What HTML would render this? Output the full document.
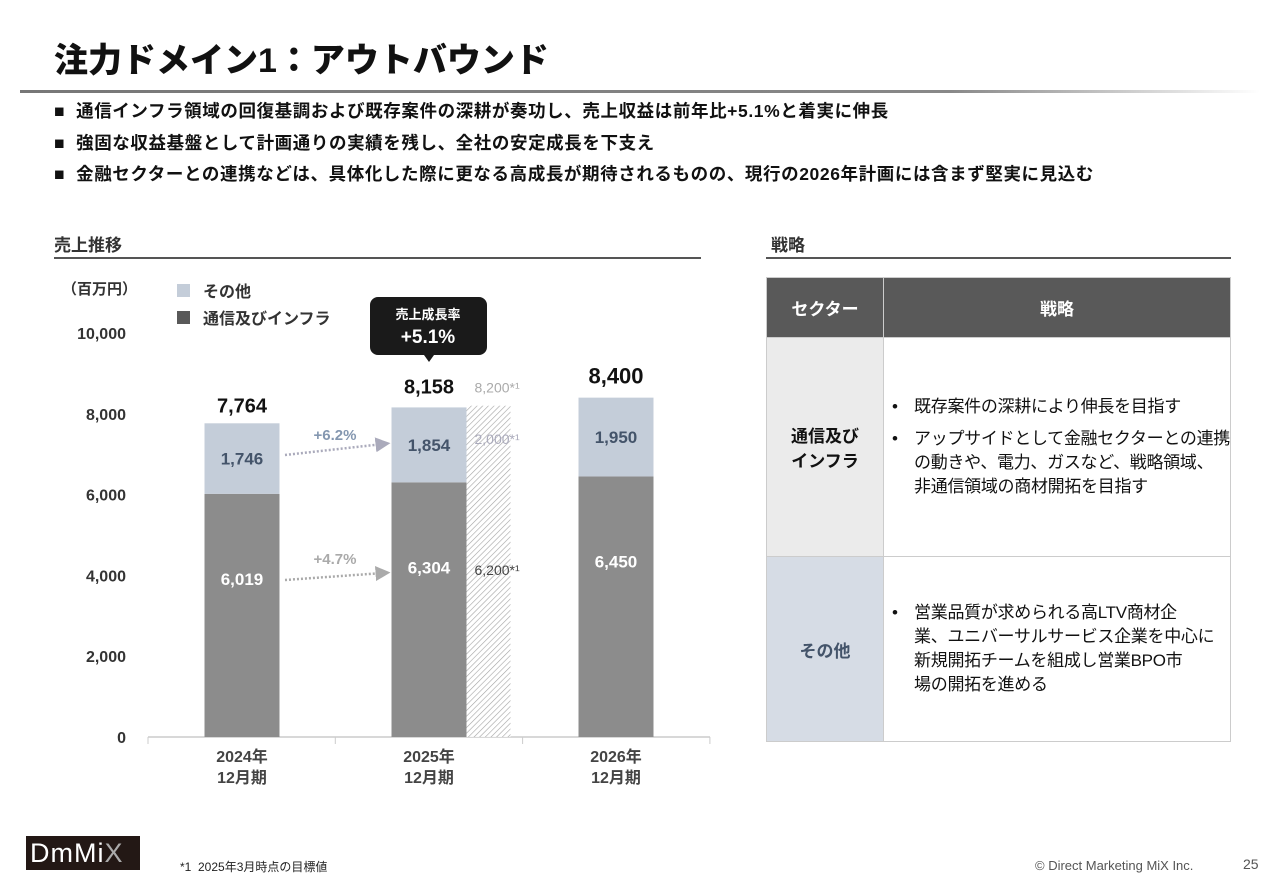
<!DOCTYPE html>
<html><head><meta charset="utf-8">
<style>
body{margin:0;width:1280px;height:886px;background:#fff;overflow:hidden;font-family:"Liberation Sans","Noto Sans CJK JP",sans-serif;position:relative;color:#111}
.abs{position:absolute}
.title{left:54px;top:33px;font-size:34px;font-weight:900;white-space:nowrap}
.rule{left:20px;top:90px;width:1240px;height:3px;background:linear-gradient(90deg,#777 0%,#888 75%,#fff 100%)}
.bl{left:54px;font-size:17.5px;font-weight:bold;white-space:nowrap;letter-spacing:0.6px}
.sec{font-size:17px;font-weight:bold;color:#333}
table{border-collapse:collapse;position:absolute;left:766px;top:277px;width:465px}
td{border:1px solid #ccc;font-size:17px}
.st{padding:0 0 0 8px;line-height:24px;white-space:nowrap;letter-spacing:-0.3px}
</style></head><body>
<div class="abs title">注力ドメイン1：アウトバウンド</div>
<div class="abs rule"></div>
<div class="abs bl" style="top:98px">■&nbsp; 通信インフラ領域の回復基調および既存案件の深耕が奏功し、売上収益は前年比+5.1%と着実に伸長</div>
<div class="abs bl" style="top:130px">■&nbsp; 強固な収益基盤として計画通りの実績を残し、全社の安定成長を下支え</div>
<div class="abs bl" style="top:161px">■&nbsp; 金融セクターとの連携などは、具体化した際に更なる高成長が期待されるものの、現行の2026年計画には含まず堅実に見込む</div>

<div class="abs sec" style="left:54px;top:231px">売上推移</div>
<div class="abs" style="left:54px;top:257px;width:647px;height:2px;background:#555"></div>
<div class="abs sec" style="left:771px;top:231px">戦略</div>
<div class="abs" style="left:766px;top:257px;width:465px;height:2px;background:#555"></div>

<svg class="abs" style="left:0;top:0" width="760" height="820">
<defs><pattern id="hatch" width="4" height="4" patternUnits="userSpaceOnUse" patternTransform="rotate(45)"><rect width="4" height="4" fill="#fff"/><line x1="0" y1="0" x2="0" y2="4" stroke="#999" stroke-width="1.2"/></pattern>
<marker id="arr" markerWidth="6" markerHeight="6" refX="3" refY="3" orient="auto"><path d="M0,0L6,3L0,6z" fill="#aab"/></marker>
<marker id="arr2" markerWidth="6" markerHeight="6" refX="3" refY="3" orient="auto"><path d="M0,0L6,3L0,6z" fill="#aaa"/></marker></defs>
<g id="g"></g>
</svg>

<table>
<tr style="height:60px;background:#595959;color:#fff;font-weight:bold"><td style="width:115px;text-align:center">セクター</td><td style="text-align:center">戦略</td></tr>
<tr style="height:219px"><td style="background:#ebebeb;text-align:center;font-weight:bold">通信及び<br>インフラ</td>
<td class="st"><div style="display:flex;margin-bottom:8px"><span style="width:22px">•</span><span>既存案件の深耕により伸長を目指す</span></div><div style="display:flex"><span style="width:22px;flex:none">•</span><span>アップサイドとして金融セクターとの連携<br>の動きや、電力、ガスなど、戦略領域、<br>非通信領域の商材開拓を目指す</span></div></td></tr>
<tr style="height:185px"><td style="background:#d6dce5;text-align:center;font-weight:bold;color:#44546a">その他</td>
<td class="st"><div style="display:flex"><span style="width:22px;flex:none">•</span><span>営業品質が求められる高LTV商材企<br>業、ユニバーサルサービス企業を中心に<br>新規開拓チームを組成し営業BPO市<br>場の開拓を進める</span></div></td></tr>
</table>

<div class="abs" style="left:26px;top:836px;width:114px;height:34px;background:#231815;color:#fff;font-size:27px;line-height:34px;padding-left:4px;box-sizing:border-box;letter-spacing:1px">DmMi<span style="color:#aaa">X</span></div>
<div class="abs" style="left:180px;top:858px;font-size:12px;color:#222">*1&nbsp; 2025年3月時点の目標値</div>
<div class="abs" style="left:1035px;top:858px;font-size:13px;color:#555">© Direct Marketing MiX Inc.</div>
<div class="abs" style="left:1243px;top:856px;font-size:14px;color:#555">25</div>

<script>
const categories=["2024年","2025年","2026年"];
const infraValues=[6019,6304,6450];
const otherValues=[1746,1854,1950];
const totalValues=[7764,8158,8400];
const targetInfra=6200;
const targetOther=2000;
const targetTotal=8200;
const yTicks=[0,2000,4000,6000,8000,10000];
const growthOther="+6.2%";
const growthInfra="+4.7%";

const NS="http://www.w3.org/2000/svg";
const g=document.getElementById('g');
const y=v=>737-v*0.0404;
const xc=i=>242+i*187;
const BW=75;
function el(t,a,txt){const e=document.createElementNS(NS,t);for(const k in a)e.setAttribute(k,a[k]);if(txt!=null)e.textContent=txt;g.appendChild(e);return e;}
const F='"Liberation Sans","Noto Sans CJK JP",sans-serif';

yTicks.forEach(t=>{const e=el('text',{x:126,y:y(t)+6,'text-anchor':'end','font-size':16,'font-weight':'bold',fill:'#333','font-family':F},t.toLocaleString('en-US'));

});
let ax=el('line',{x1:148,x2:710,y1:737,y2:737,stroke:'#ccc','stroke-width':1.5});


[0,1,2,3].forEach(i=>{el('line',{x1:148+i*187.3,x2:148+i*187.3,y1:737,y2:744,stroke:'#ccc'});});
let u=el('text',{x:62,y:294,'font-size':15,'font-weight':'bold',fill:'#333','font-family':F},'（百万円）');



let l1=el('rect',{x:177,y:284,width:13,height:13,fill:'#c4cdd9'});


el('text',{x:203,y:297,'font-size':16,'font-weight':'bold',fill:'#333','font-family':F},'その他');
let l2=el('rect',{x:177,y:311,width:13,height:13,fill:'#595959'});


el('text',{x:203,y:324,'font-size':16,'font-weight':'bold',fill:'#333','font-family':F},'通信及びインフラ');

categories.forEach((c,i)=>{
  const x0=xc(i)-BW/2;
  const b1=el('rect',{x:x0,y:y(infraValues[i]),width:BW,height:737-y(infraValues[i]),fill:'#8c8c8c'});
  
  
  const top=infraValues[i]+otherValues[i];
  const b2=el('rect',{x:x0,y:y(top),width:BW,height:y(infraValues[i])-y(top),fill:'#c4cdd9'});
  
  
  el('text',{x:xc(i),y:y(infraValues[i])+91,'text-anchor':'middle','font-size':17,'font-weight':'bold',fill:'#fff','font-family':F},infraValues[i].toLocaleString('en-US'));
  el('text',{x:xc(i),y:(y(top)+y(infraValues[i]))/2+6,'text-anchor':'middle','font-size':17,'font-weight':'bold',fill:'#44546a','font-family':F},otherValues[i].toLocaleString('en-US'));
  el('text',{x:xc(i),y:y(totalValues[i])-14+(i==0?3:0),'text-anchor':'middle','font-size':i==2?22:20,'font-weight':'bold',fill:'#111','font-family':F},totalValues[i].toLocaleString('en-US'));
  const cl=el('text',{x:xc(i),y:762,'text-anchor':'middle','font-size':16,'font-weight':'bold',fill:'#444','font-family':F},c);
  
  
  el('text',{x:xc(i),y:783,'text-anchor':'middle','font-size':16,'font-weight':'bold',fill:'#444','font-family':F},'12月期');
});
const tx=xc(1)+BW/2;
const tb=el('rect',{x:tx,y:y(targetTotal),width:44,height:737-y(targetTotal),fill:'url(#hatch)',opacity:0.9});


el('text',{x:tx+8,y:y(targetTotal)-13,'font-size':14,fill:'#aaa','font-family':F},targetTotal.toLocaleString('en-US')+'*¹');
el('text',{x:tx+8,y:(y(targetTotal)+y(targetInfra))/2-2,'font-size':14,fill:'#aab','font-family':F},targetOther.toLocaleString('en-US')+'*¹');
el('text',{x:tx+8,y:575,'font-size':14,fill:'#444','font-family':F},targetInfra.toLocaleString('en-US')+'*¹');
el('line',{x1:285,y1:455,x2:383,y2:444,stroke:'#aab','stroke-width':2.5,'stroke-dasharray':'2 2','marker-end':'url(#arr)'});
el('text',{x:335,y:440,'text-anchor':'middle','font-size':15,'font-weight':'bold',fill:'#8497b0','font-family':F},growthOther);
el('line',{x1:285,y1:580,x2:383,y2:573,stroke:'#aaa','stroke-width':2.5,'stroke-dasharray':'2 2','marker-end':'url(#arr2)'});
el('text',{x:335,y:564,'text-anchor':'middle','font-size':15,'font-weight':'bold',fill:'#aaa','font-family':F},growthInfra);
const cb=el('path',{d:'M378,297h101a8,8 0 0 1 8,8v42a8,8 0 0 1 -8,8h-45l-5,7l-5,-7h-46a8,8 0 0 1 -8,-8v-42a8,8 0 0 1 8,-8z',fill:'#1a1a1a'});


el('text',{x:428,y:319,'text-anchor':'middle','font-size':13,'font-weight':'bold',fill:'#fff','font-family':F},'売上成長率');
el('text',{x:428,y:343,'text-anchor':'middle','font-size':19,'font-weight':'bold',fill:'#fff','font-family':F},'+5.1%');
</script>
</body></html>
